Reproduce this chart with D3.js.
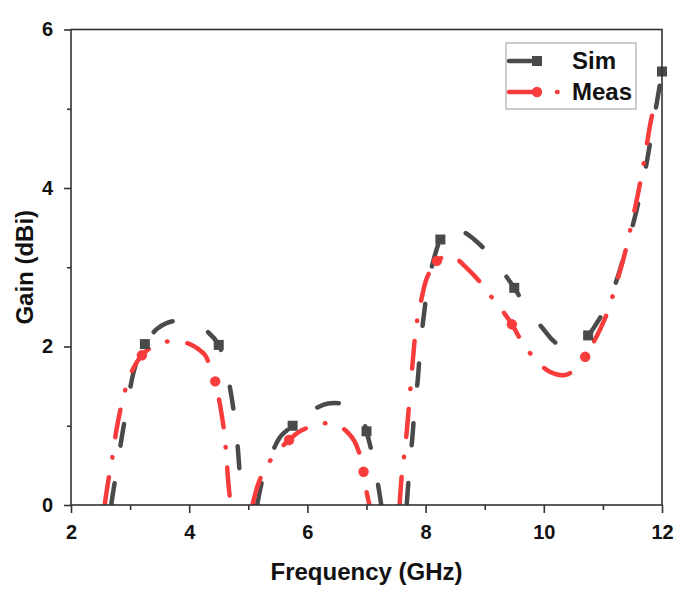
<!DOCTYPE html>
<html>
<head>
<meta charset="utf-8">
<script src="https://cdn.jsdelivr.net/npm/d3@7"></script>
<style>
body{margin:0;background:#fff;}
text{font-family:"Liberation Sans",Arial,sans-serif;font-weight:bold;fill:#111;}
</style>
</head>
<body>
<div id="graph"></div>
<script>
// Sim curve (null = gap, curve below 0 dB)
const simFreq = [2.68,2.71,2.78,2.86,2.94,3.05,3.15,3.25,3.47,3.73,3.96,4.15,4.32,4.5,4.57,4.69,4.8,4.86,4.9,
  5.0,
  5.15,5.25,5.42,5.55,5.75,5.9,6.09,6.35,6.64,6.83,6.95,7.0,7.11,7.19,7.25,
  7.4,
  7.68,7.72,7.77,7.82,7.87,7.91,7.96,8.03,8.12,8.25,8.33,8.5,8.7,8.9,9.09,9.3,9.5,9.68,9.85,9.96,10.15,10.3,10.45,10.6,10.75,10.9,11.09,11.26,11.4,11.54,11.66,11.76,11.84,11.92,12.0];
const simGain = [0,0.15,0.47,0.86,1.2,1.65,1.88,2.03,2.23,2.32,2.3,2.26,2.18,2.02,1.87,1.48,0.9,0.35,0,
  null,
  0,0.35,0.69,0.87,1.0,1.1,1.2,1.28,1.27,1.2,1.06,0.93,0.6,0.28,0,
  null,
  0,0.4,0.8,1.25,1.6,2.0,2.33,2.72,3.05,3.35,3.43,3.5,3.42,3.3,3.15,2.95,2.74,2.52,2.34,2.25,2.08,2.0,1.99,2.05,2.14,2.3,2.55,2.9,3.25,3.63,4.02,4.4,4.77,5.11,5.47];
const simMarkFreq = [3.25,4.5,5.75,7.0,8.25,9.5,10.75,12.0];

// Meas curve
const measFreq = [2.57,2.63,2.7,2.77,2.85,2.93,3.05,3.2,3.42,3.6,3.79,4.01,4.15,4.27,4.38,4.44,4.49,4.58,4.62,4.66,4.7,
  4.9,
  5.07,5.17,5.3,5.5,5.69,5.85,6.02,6.2,6.35,6.55,6.7,6.8,6.92,6.95,6.98,7.05,
  7.3,
  7.56,7.6,7.65,7.69,7.73,7.77,7.8,7.84,7.93,8.02,8.19,8.38,8.5,8.64,8.89,9.12,9.3,9.46,9.63,9.82,10.1,10.36,10.56,10.7,10.84,11.06,11.23,11.38,11.5,11.6,11.7,11.8,11.9];
const measGain = [0,0.3,0.6,0.95,1.25,1.48,1.72,1.89,2.02,2.06,2.07,2.03,1.97,1.89,1.68,1.56,1.39,0.99,0.7,0.3,0,
  null,
  0,0.27,0.48,0.68,0.82,0.92,0.98,1.02,1.03,0.99,0.9,0.8,0.55,0.42,0.25,0,
  null,
  0,0.4,0.7,1.0,1.35,1.7,1.96,2.25,2.6,2.86,3.08,3.14,3.12,3.03,2.84,2.62,2.45,2.28,2.06,1.87,1.68,1.64,1.73,1.87,2.05,2.4,2.8,3.2,3.6,3.95,4.35,4.8,5.15];
const measMarkFreq = [3.2,4.44,5.69,6.95,8.19,9.46,10.7];

const xMajor = [2,4,6,8,10,12];
const xMinor = [3,5,7,9,11];
const yMajor = [0,2,4,6];
const yMinor = [1,3,5];

const w = 685, h = 599;
const padL = 71, padT = 29.5, padR = 662, padB = 505;
const simColor = '#4a4a4a', measColor = '#f83b3b';

const svg = d3.select('#graph').append('svg')
  .attr('width', w).attr('height', h);

const xScale = d3.scaleLinear().domain([2,12]).range([padL,padR]);
const yScale = d3.scaleLinear().domain([0,6]).range([padB,padT]);

function zip(fs, gs) {
  return fs.map((f,i) => ({f: f, g: gs[i]}));
}
const sim = zip(simFreq, simGain);
const meas = zip(measFreq, measGain);

svg.append('clipPath').attr('id','plot')
  .append('rect').attr('x',padL).attr('y',padT)
  .attr('width',padR-padL).attr('height',padB-padT);

const line = d3.line()
  .defined(d => d.g !== null)
  .x(d => xScale(d.f)).y(d => yScale(d.g))
  .curve(d3.curveCatmullRom.alpha(0.5));

svg.append('path').datum(sim)
  .attr('clip-path','url(#plot)')
  .attr('d', line).attr('fill','none')
  .attr('stroke', simColor).attr('stroke-width',4.5)
  .attr('stroke-linecap','round')
  .attr('stroke-dasharray','22,38');

svg.append('path').datum(meas)
  .attr('clip-path','url(#plot)')
  .attr('d', line).attr('fill','none')
  .attr('stroke', measColor).attr('stroke-width',4.5)
  .attr('stroke-linecap','round')
  .attr('stroke-dasharray','28,20,0.5,20');

// markers
svg.selectAll('.sq').data(sim.filter(d => simMarkFreq.includes(d.f)))
  .enter().append('rect').attr('class','sq')
  .attr('x', d => xScale(d.f)-5).attr('y', d => yScale(d.g)-5)
  .attr('width',10).attr('height',10).attr('fill', simColor);

svg.selectAll('.dot').data(meas.filter(d => measMarkFreq.includes(d.f)))
  .enter().append('circle').attr('class','dot')
  .attr('cx', d => xScale(d.f)).attr('cy', d => yScale(d.g))
  .attr('r',5.2).attr('fill', measColor);

// frame
svg.append('rect').attr('x',padL).attr('y',padT)
  .attr('width',padR-padL).attr('height',padB-padT)
  .attr('fill','none').attr('stroke','#333').attr('stroke-width',1.6);

// axes
svg.append('g').attr('transform','translate(0,'+padB+')')
  .call(d3.axisBottom(xScale).tickValues(xMajor).tickSize(8).tickPadding(12).tickFormat(d3.format('d')));
svg.append('g').attr('transform','translate(0,'+padB+')')
  .call(d3.axisBottom(xScale).tickValues(xMinor).tickSize(5).tickFormat(''));
svg.append('g').attr('transform','translate('+padL+',0)')
  .call(d3.axisLeft(yScale).tickValues(yMajor).tickSize(7).tickPadding(11).tickFormat(d3.format('d')));
svg.append('g').attr('transform','translate('+padL+',0)')
  .call(d3.axisLeft(yScale).tickValues(yMinor).tickSize(4).tickFormat(''));

svg.selectAll('.domain').remove();
svg.selectAll('.tick line').attr('stroke','#333').attr('stroke-width',1.6);
svg.selectAll('.tick text').attr('font-size',20).attr('fill','#111')
  .style('font-family','"Liberation Sans",Arial,sans-serif').style('font-weight','bold');

// axis labels
svg.append('text').text('Frequency (GHz)')
  .attr('x',(padL+padR)/2).attr('y',580)
  .attr('text-anchor','middle').attr('font-size',24);

svg.append('text').text('Gain (dBi)')
  .attr('transform','translate(33,'+((padT+padB)/2)+') rotate(-90)')
  .attr('text-anchor','middle').attr('font-size',24);

// legend
const lg = svg.append('g');
lg.append('rect').attr('x',506).attr('y',43).attr('width',130).attr('height',66)
  .attr('fill','#fff').attr('stroke','#999').attr('stroke-width',1);
lg.append('line').attr('x1',509).attr('x2',569).attr('y1',61).attr('y2',61)
  .attr('stroke',simColor).attr('stroke-width',4.5).attr('stroke-linecap','round')
  .attr('stroke-dasharray','22,38');
lg.append('rect').attr('x',532).attr('y',56).attr('width',10).attr('height',10).attr('fill',simColor);
lg.append('line').attr('x1',509).attr('x2',569).attr('y1',92).attr('y2',92)
  .attr('stroke',measColor).attr('stroke-width',4.5).attr('stroke-linecap','round')
  .attr('stroke-dasharray','28,20,0.5,20');
lg.append('circle').attr('cx',537).attr('cy',92).attr('r',5.2).attr('fill',measColor);
lg.append('text').text('Sim').attr('x',572).attr('y',69).attr('font-size',24);
lg.append('text').text('Meas').attr('x',572).attr('y',100).attr('font-size',24);
</script>
</body>
</html>
